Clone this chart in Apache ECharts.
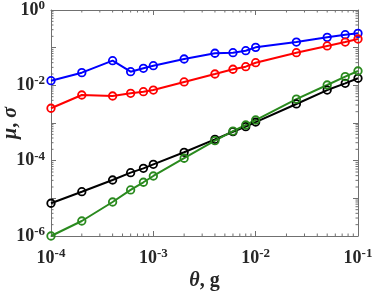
<!DOCTYPE html>
<html><head><meta charset="utf-8">
<script src="https://cdn.jsdelivr.net/npm/echarts@6/dist/echarts.min.js"></script>
<style>html,body{margin:0;padding:0;background:#fff}#c{width:374px;height:292px}</style>
</head><body><div id="c"></div>
<script>
var thetaValues = [1e-4, 2e-4, 4e-4, 6e-4, 8e-4, 1e-3, 2e-3, 4e-3, 6e-3, 8e-3, 1e-2, 2.5e-2, 5e-2, 7.5e-2, 1e-1];
var blueValues = [0.0133, 0.0217, 0.0451, 0.023, 0.0283, 0.0332, 0.05, 0.071, 0.0736, 0.083, 0.102, 0.141, 0.188, 0.221, 0.24];
var redValues = [0.00246, 0.00554, 0.00521, 0.00615, 0.00678, 0.0075, 0.0123, 0.02, 0.0267, 0.0313, 0.0399, 0.0735, 0.111, 0.141, 0.17];
var blackValues = [7.4e-6, 1.5e-5, 3.07e-5, 4.8e-5, 6.26e-5, 8e-5, 1.67e-4, 3.69e-4, 5.87e-4, 7.98e-4, 1.06e-3, 3.2e-3, 7.5e-3, 0.0113, 0.0154];
var greenValues = [1e-6, 2.5e-6, 8e-6, 1.67e-5, 2.67e-5, 3.92e-5, 1.16e-4, 3.39e-4, 6.1e-4, 8.85e-4, 1.2e-3, 4.3e-3, 0.0102, 0.017, 0.024];
var xTicks = [1e-4, 1e-3, 1e-2, 1e-1];
var yTicks = [1e-6, 1e-4, 1e-2, 1e0];

function pairs(ys){ return thetaValues.map(function(x,i){ return [x, ys[i]]; }); }
function minorList(lo, hi){
  var out=[]; for (var e=lo; e<hi; e++){ for (var m=2;m<=9;m++){ out.push(m*Math.pow(10,e)); } } return out;
}
var xMinor = minorList(-4,-1);
var yMinor = minorList(-6,0);

var axisGray = '#707070';
var serif = 'Liberation Serif';
var txt = '#262626';
function supLabel(v){
  var e = Math.round(Math.log10(v));
  return '{b|10}{s|' + e + '}';
}
var labelRich = {
  b: {fontFamily: serif, fontWeight: 'bold', fontSize: 18, color: txt},
  s: {fontFamily: serif, fontWeight: 'bold', fontSize: 13, color: txt, padding: [0,0,9,0]}
};

function lineSeries(ys, color){
  return {
    type: 'line', data: pairs(ys), symbol: 'circle', symbolSize: 7.5,
    showSymbol: true, clip: false,
    itemStyle: {color: 'rgba(255,255,255,0)', borderColor: color, borderWidth: 1.8},
    lineStyle: {color: color, width: 2},
    z: 5
  };
}

function minorTickSeries(vals, dir, len){
  return {
    type: 'custom', silent: true, z: 3,
    data: vals.map(function(v){ return [v]; }),
    renderItem: function(params, api){
      var v = api.value(0);
      var g = [];
      if (dir === 'x'){
        var pb = api.coord([v, 1e-6]), pt = api.coord([v, 1]);
        g.push({type:'line', shape:{x1:pb[0],y1:pb[1],x2:pb[0],y2:pb[1]-len}, style:{stroke:axisGray, lineWidth:1}});
        g.push({type:'line', shape:{x1:pt[0],y1:pt[1],x2:pt[0],y2:pt[1]+len}, style:{stroke:axisGray, lineWidth:1}});
      } else {
        var pl = api.coord([1e-4, v]), pr = api.coord([0.1, v]);
        g.push({type:'line', shape:{x1:pl[0],y1:pl[1],x2:pl[0]+len,y2:pl[1]}, style:{stroke:axisGray, lineWidth:1}});
        g.push({type:'line', shape:{x1:pr[0],y1:pr[1],x2:pr[0]-len,y2:pr[1]}, style:{stroke:axisGray, lineWidth:1}});
      }
      return {type:'group', children:g};
    },
    encode: dir === 'x' ? {x: 0} : {y: 0}
  };
}

var baseX = {
  type: 'log', logBase: 10, min: 1e-4, max: 0.1,
  axisLine: {show: true, lineStyle: {color: axisGray, width: 1}},
  axisTick: {show: true, inside: true, length: 5, lineStyle: {color: axisGray}},
  splitLine: {show: false}
};
var baseY = {
  type: 'log', logBase: 10, min: 1e-6, max: 1,
  axisLine: {show: true, lineStyle: {color: axisGray, width: 1}},
  axisTick: {show: true, inside: true, length: 5, lineStyle: {color: axisGray}},
  splitLine: {show: false}
};
var nameRich = {
  i: {fontFamily: serif, fontStyle: 'italic', fontWeight: 'bold', fontSize: 20, color: txt},
  n: {fontFamily: serif, fontWeight: 'bold', fontSize: 20, color: txt}
};

var chart = echarts.init(document.getElementById('c'), null, {renderer: 'canvas'});
chart.setOption({
  backgroundColor: '#fff',
  animation: false,
  grid: {left: 51, right: 16, top: 10, bottom: 56, containLabel: false, outerBoundsMode: 'none'},
  xAxis: [
    Object.assign({}, baseX, {
      position: 'bottom',
      axisLabel: {formatter: supLabel, rich: labelRich, margin: 11},
      name: '{i|θ}{n|, g}', nameLocation: 'middle', nameGap: 35, nameMoveOverlap: false,
      nameTextStyle: {rich: nameRich}
    }),
    Object.assign({}, baseX, {position: 'top', axisLabel: {show: false}})
  ],
  yAxis: [
    Object.assign({}, baseY, {
      position: 'left',
      axisLabel: {formatter: function(v){ var e=Math.round(Math.log10(v)); return (e%2===0)? supLabel(v) : ''; }, rich: labelRich, margin: 6},
      name: '{i|μ}{n|, }{i|σ}', nameLocation: 'middle', nameGap: 30, nameRotate: 90, nameMoveOverlap: false,
      nameTextStyle: {rich: nameRich}
    }),
    Object.assign({}, baseY, {position: 'right', axisLabel: {show: false}})
  ],
  series: [
    minorTickSeries(xMinor, 'x', 2.5),
    minorTickSeries(yMinor, 'y', 2.5),
    lineSeries(blueValues, '#0000ff'),
    lineSeries(redValues, '#ff0000'),
    lineSeries(blackValues, '#000000'),
    lineSeries(greenValues, '#2a8a1e')
  ]
});
</script></body></html>
